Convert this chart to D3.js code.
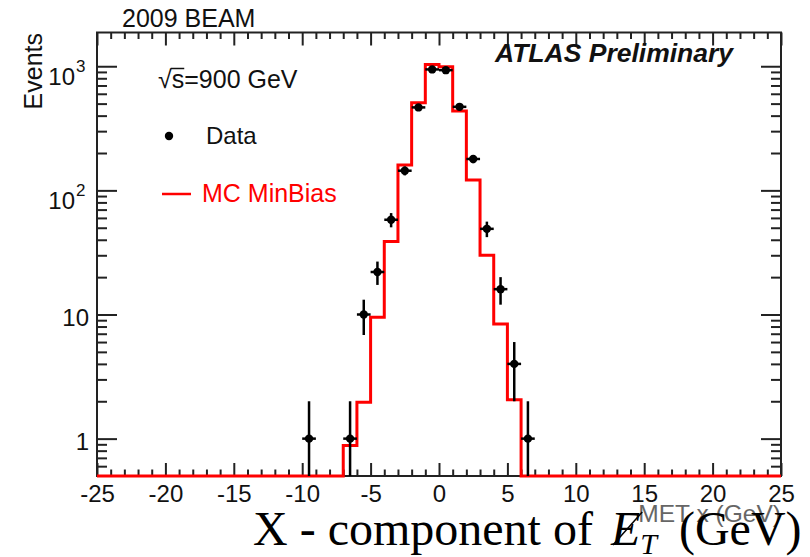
<!DOCTYPE html>
<html>
<head>
<meta charset="utf-8">
<script src="https://cdn.jsdelivr.net/npm/d3@7"></script>
<style>
  html, body { margin: 0; padding: 0; background: #fff; }
  svg { display: block; font-family: "Liberation Sans", Arial, sans-serif; }
</style>
</head>
<body>
<div id="chart"></div>
<script>
// MC histogram: bin low edges (1 GeV wide) and contents, zero elsewhere
const mcBinLow = [-7, -6, -5, -4, -3, -2, -1, 0, 1, 2, 3, 4, 5];
const mcValues = [0.88, 1.96, 9.5, 38.7, 160, 508, 1033, 990, 435, 121, 30, 8.4, 2.06];

// data points: bin centres and event counts
const dataCenters = [-9.5, -6.5, -5.5, -4.5, -3.5, -2.5, -1.5, -0.5, 0.5, 1.5, 2.5, 3.5, 4.5, 5.5, 6.5];
const dataCounts = [1, 1, 10, 22, 58, 144, 466, 943, 930, 471, 179, 49, 16, 4, 1];

const xMajor = [-25, -20, -15, -10, -5, 0, 5, 10, 15, 20, 25];
const yMajor = [1, 10, 100, 1000];
const yLabels = [["1", ""], ["10", ""], ["10", "2"], ["10", "3"]];

const W = 810, H = 557;
const pLeft = 97, pRight = 781, pTop = 32.5, pBottom = 476;

const svg = d3.select("#chart").append("svg")
    .attr("width", W).attr("height", H);

const x = d3.scaleLinear().domain([-25, 25]).range([pLeft, pRight]);
const y = d3.scaleLog().domain([0.5, 1870]).range([pBottom, pTop]);

// minor ticks
const xMinor = d3.range(-25, 26, 1).filter(v => v % 5 !== 0);
const yMinor = [];
[0.1, 1, 10, 100, 1000].forEach(d => {
    for (let k = 2; k <= 9; k++) {
        const v = d * k;
        if (v > 0.5 && v < 1870) yMinor.push(v);
    }
});

function styleAxis(g) {
    g.select(".domain").remove();
    g.selectAll(".tick line").attr("stroke", "#222").attr("stroke-width", 2);
}

// x axes
svg.append("g").attr("transform", `translate(0,${pBottom})`)
    .call(d3.axisBottom(x).tickValues(xMajor).tickSize(-13).tickPadding(9).tickFormat(d => String(d)))
    .call(styleAxis)
    .call(g => g.selectAll("text").attr("font-size", 24).attr("fill", "#111")
        .attr("font-family", "Liberation Sans, Arial, sans-serif"));
svg.append("g").attr("transform", `translate(0,${pBottom})`)
    .call(d3.axisBottom(x).tickValues(xMinor).tickSize(-6.5).tickFormat(""))
    .call(styleAxis);
svg.append("g").attr("transform", `translate(0,${pTop})`)
    .call(d3.axisTop(x).tickValues(xMajor).tickSize(-13).tickFormat(""))
    .call(styleAxis);
svg.append("g").attr("transform", `translate(0,${pTop})`)
    .call(d3.axisTop(x).tickValues(xMinor).tickSize(-6.5).tickFormat(""))
    .call(styleAxis);

// y axes
svg.append("g").attr("transform", `translate(${pLeft},0)`)
    .call(d3.axisLeft(y).tickValues(yMajor).tickSize(-20).tickFormat(""))
    .call(styleAxis);
svg.append("g").attr("transform", `translate(${pLeft},0)`)
    .call(d3.axisLeft(y).tickValues(yMinor).tickSize(-10).tickFormat(""))
    .call(styleAxis);
svg.append("g").attr("transform", `translate(${pRight},0)`)
    .call(d3.axisRight(y).tickValues(yMajor).tickSize(-20).tickFormat(""))
    .call(styleAxis);
svg.append("g").attr("transform", `translate(${pRight},0)`)
    .call(d3.axisRight(y).tickValues(yMinor).tickSize(-10).tickFormat(""))
    .call(styleAxis);

// y labels
yMajor.forEach((v, i) => {
    const [base, exp] = yLabels[i];
    svg.append("text")
        .attr("x", exp ? 75 : 89)
        .attr("y", y(v) + (exp ? 19 : 11))
        .attr("text-anchor", "end")
        .attr("font-size", 24).attr("fill", "#111")
        .text(base);
    if (exp) {
        svg.append("text")
            .attr("x", 76).attr("y", y(v) + 6)
            .attr("font-size", 17).attr("fill", "#111")
            .text(exp);
    }
});

// frame
svg.append("rect")
    .attr("x", pLeft).attr("y", pTop)
    .attr("width", pRight - pLeft).attr("height", pBottom - pTop)
    .attr("fill", "none").attr("stroke", "#222").attr("stroke-width", 2);

// MC histogram outline
const bins = mcBinLow.map((lo, i) => ({ lo: lo, hi: lo + 1, v: mcValues[i] }));
const pts = [[x(-25), pBottom], [x(bins[0].lo), pBottom]];
bins.forEach(b => {
    pts.push([x(b.lo), y(b.v)]);
    pts.push([x(b.hi), y(b.v)]);
});
pts.push([x(bins[bins.length - 1].hi), pBottom]);
pts.push([x(25), pBottom]);
svg.append("path")
    .attr("d", d3.line()(pts))
    .attr("fill", "none").attr("stroke", "#ff0000").attr("stroke-width", 3)
    .attr("stroke-linejoin", "miter");

// data points with sqrt(N) errors
const dg = svg.append("g");
dataCenters.forEach((c, i) => {
    const n = dataCounts[i];
    const e = Math.sqrt(n);
    const yHi = y(n + e);
    const yLo = n - e > 0.5 ? y(n - e) : pBottom;
    dg.append("line")
        .attr("x1", x(c)).attr("x2", x(c)).attr("y1", yHi).attr("y2", yLo)
        .attr("stroke", "#000").attr("stroke-width", 2.5);
    dg.append("line")
        .attr("x1", x(c - 0.5)).attr("x2", x(c + 0.5)).attr("y1", y(n)).attr("y2", y(n))
        .attr("stroke", "#000").attr("stroke-width", 2.5);
    dg.append("circle")
        .attr("cx", x(c)).attr("cy", y(n)).attr("r", 4.2).attr("fill", "#000");
});

// texts
svg.append("text").attr("x", 122).attr("y", 27)
    .attr("font-size", 25).attr("fill", "#111").text("2009 BEAM");

svg.append("text")
    .attr("transform", "translate(42,33) rotate(-90)")
    .attr("text-anchor", "end")
    .attr("font-size", 25).attr("fill", "#111").text("Events");

svg.append("text").attr("x", 495).attr("y", 62)
    .attr("font-size", 26.5).attr("font-weight", "bold").attr("font-style", "italic")
    .attr("fill", "#111").text("ATLAS Preliminary");

const rs = svg.append("text").attr("x", 158).attr("y", 88)
    .attr("font-size", 25).attr("fill", "#111").text("√s=900 GeV");
const rsNode = rs.node();
const wSq = rsNode.getSubStringLength(0, 1);
const wS = rsNode.getSubStringLength(1, 1);
svg.append("line")
    .attr("x1", 158 + wSq - 1).attr("x2", 158 + wSq + wS)
    .attr("y1", 88 - 19.5).attr("y2", 88 - 19.5)
    .attr("stroke", "#111").attr("stroke-width", 1.5);

// legend
svg.append("circle").attr("cx", 169).attr("cy", 136).attr("r", 4.2).attr("fill", "#000");
svg.append("text").attr("x", 206).attr("y", 144)
    .attr("font-size", 24).attr("fill", "#111").text("Data");
svg.append("line").attr("x1", 162).attr("x2", 191).attr("y1", 194).attr("y2", 194)
    .attr("stroke", "#ff0000").attr("stroke-width", 2.5);
svg.append("text").attr("x", 202).attr("y", 202)
    .attr("font-size", 25).attr("fill", "#ff0000").text("MC MinBias");

// x-axis title: serif overlay with the original ROOT title showing through
const tX = 253, tY = 545;
const underG = svg.append("g");
const xt = svg.append("text").attr("x", tX).attr("y", tY)
    .attr("font-family", "Liberation Serif, Times New Roman, serif")
    .attr("font-size", 48).attr("fill", "#000");
xt.append("tspan").text("X - component of ");
xt.append("tspan").attr("font-style", "italic").attr("dx", 6).text("E");
const xtNode = xt.node();
const preW = xtNode.getSubStringLength(0, 17) + 6;
const eW = xtNode.getSubStringLength(17, 1);
const grayX = tX + preW + eW - 2;

underG.append("text")
    .attr("x", grayX).attr("y", 522)
    .attr("textLength", pRight - grayX).attr("lengthAdjust", "spacingAndGlyphs")
    .attr("font-size", 24).attr("fill", "#666").text("MET x (GeV)");

xt.append("tspan").attr("font-style", "italic").attr("font-size", 30).attr("dy", 9).text("T");
xt.append("tspan").attr("dy", -9).attr("dx", 10).text(" (GeV)");

svg.append("line")
    .attr("x1", tX + preW + 2).attr("x2", tX + preW + eW + 2)
    .attr("y1", tY).attr("y2", tY - 33)
    .attr("stroke", "#000").attr("stroke-width", 1.5);
</script>
</body>
</html>
